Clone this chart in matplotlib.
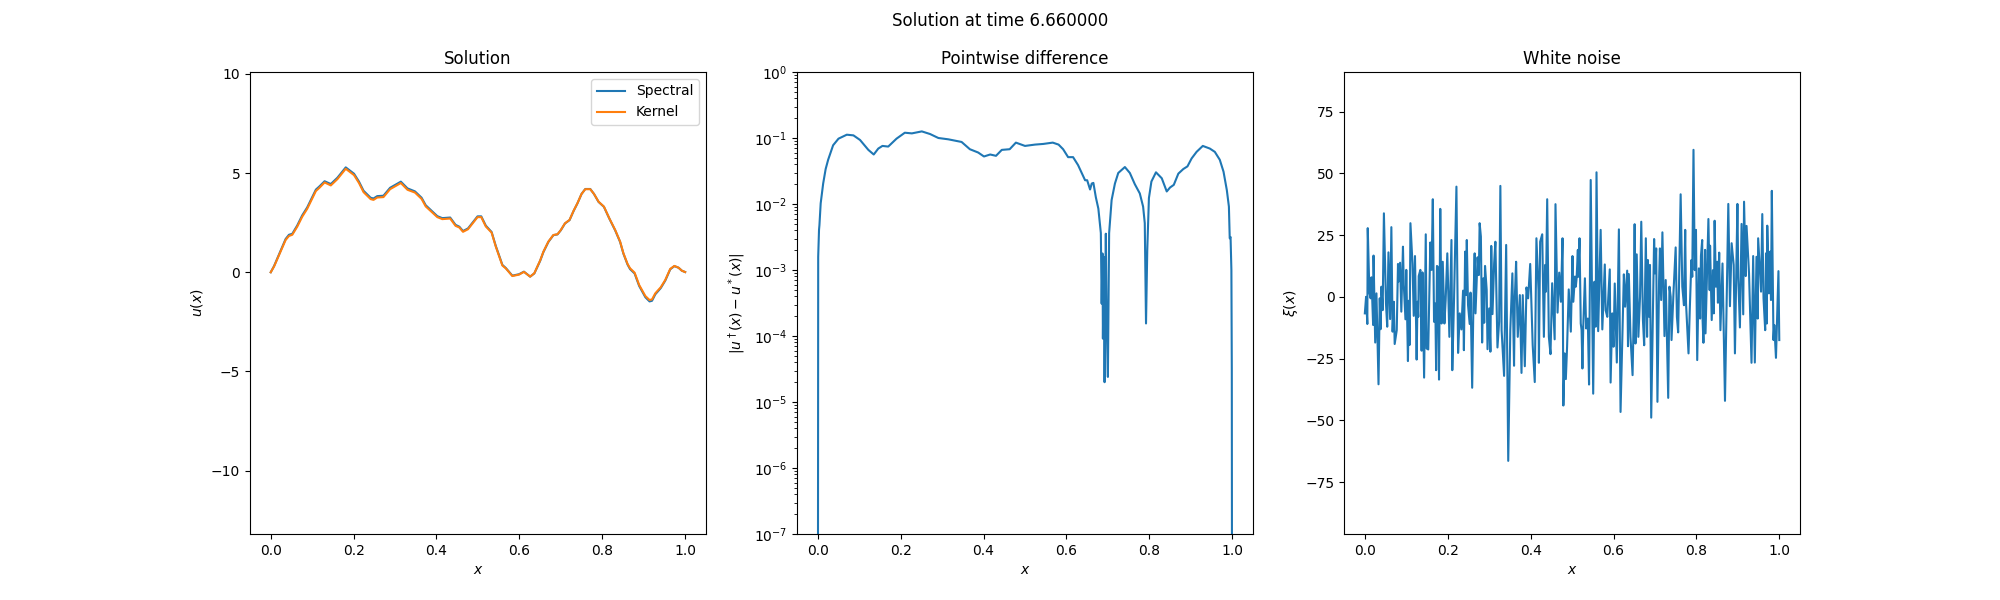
import numpy as np
import matplotlib
matplotlib.use("Agg")
import matplotlib.pyplot as plt

# values
sol_x = [0.000, 0.008, 0.036, 0.044, 0.052, 0.064, 0.076, 0.088, 0.109, 0.117, 0.130, 0.145, 0.161, 0.181,
         0.201, 0.213, 0.224, 0.241, 0.248, 0.257, 0.272, 0.288, 0.314, 0.330, 0.348, 0.364, 0.374, 0.402,
         0.414, 0.433, 0.446, 0.455, 0.464, 0.476, 0.499, 0.508, 0.519, 0.533, 0.543, 0.559, 0.567, 0.583,
         0.599, 0.611, 0.626, 0.636, 0.650, 0.658, 0.670, 0.682, 0.692, 0.700, 0.710, 0.721, 0.731, 0.740,
         0.750, 0.759, 0.771, 0.780, 0.791, 0.804, 0.817, 0.831, 0.843, 0.851, 0.861, 0.867, 0.878, 0.889,
         0.904, 0.914, 0.920, 0.928, 0.941, 0.952, 0.964, 0.974, 0.984, 0.992, 1.000]
kernel = [0.00, 0.29, 1.63, 1.83, 1.89, 2.30, 2.80, 3.20, 4.10, 4.25, 4.53, 4.38, 4.70, 5.22,
          4.90, 4.50, 4.04, 3.69, 3.65, 3.77, 3.79, 4.19, 4.50, 4.16, 4.02, 3.70, 3.32, 2.78,
          2.68, 2.71, 2.34, 2.26, 2.04, 2.17, 2.78, 2.78, 2.31, 2.00, 1.30, 0.34, 0.20, -0.19,
          -0.12, 0.02, -0.22, -0.05, 0.59, 1.04, 1.55, 1.88, 1.92, 2.13, 2.47, 2.64, 3.11, 3.48,
          3.95, 4.19, 4.19, 3.95, 3.56, 3.31, 2.72, 2.14, 1.55, 0.96, 0.42, 0.20, -0.02, -0.64,
          -1.20, -1.40, -1.37, -1.06, -0.76, -0.39, 0.17, 0.32, 0.23, 0.08, 0.01]
spectral = [0.00, 0.31, 1.68, 1.89, 1.94, 2.36, 2.87, 3.27, 4.17, 4.32, 4.59, 4.45, 4.77, 5.29,
            4.97, 4.57, 4.11, 3.76, 3.72, 3.84, 3.86, 4.26, 4.57, 4.23, 4.08, 3.76, 3.38, 2.83,
            2.73, 2.76, 2.39, 2.30, 2.08, 2.21, 2.82, 2.82, 2.35, 2.03, 1.33, 0.37, 0.22, -0.17,
            -0.10, 0.03, -0.22, -0.06, 0.57, 1.02, 1.53, 1.87, 1.91, 2.12, 2.46, 2.63, 3.10, 3.47,
            3.95, 4.20, 4.20, 3.95, 3.55, 3.30, 2.71, 2.12, 1.53, 0.94, 0.39, 0.16, -0.06, -0.69,
            -1.26, -1.47, -1.44, -1.11, -0.80, -0.42, 0.15, 0.31, 0.23, 0.08, 0.01]

diff_x = [0.000, 0.001, 0.003, 0.004, 0.007, 0.013, 0.019, 0.025, 0.037, 0.050, 0.070, 0.086, 0.102, 0.122,
          0.135, 0.146, 0.156, 0.170, 0.190, 0.210, 0.227, 0.251, 0.271, 0.291, 0.315, 0.347, 0.367, 0.387,
          0.401, 0.416, 0.430, 0.444, 0.463, 0.478, 0.500, 0.524, 0.544, 0.567, 0.581, 0.592, 0.604, 0.616,
          0.628, 0.645, 0.650, 0.657, 0.661, 0.665, 0.671, 0.677, 0.683, 0.685, 0.687, 0.688, 0.690, 0.692,
          0.695, 0.697, 0.700, 0.703, 0.709, 0.717, 0.725, 0.741, 0.753, 0.765, 0.777, 0.785, 0.789, 0.792,
          0.795, 0.799, 0.805, 0.816, 0.830, 0.842, 0.850, 0.859, 0.870, 0.882, 0.892, 0.902, 0.914, 0.929,
          0.946, 0.958, 0.970, 0.979, 0.987, 0.992, 0.994, 0.996, 0.998, 0.999, 1.000]
diff_log10 = [-12.0, -2.80, -2.39, -2.32, -1.99, -1.69, -1.47, -1.33, -1.11, -1.01, -0.95, -0.96, -1.03, -1.18,
              -1.25, -1.16, -1.12, -1.13, -1.01, -0.92, -0.93, -0.90, -0.94, -1.00, -1.02, -1.06, -1.17, -1.22,
              -1.28, -1.25, -1.27, -1.18, -1.17, -1.07, -1.12, -1.10, -1.09, -1.07, -1.10, -1.17, -1.29, -1.29,
              -1.41, -1.64, -1.64, -1.78, -1.69, -1.68, -1.90, -2.07, -2.44, -3.51, -2.75, -4.04, -2.80, -4.70,
              -2.45, -3.81, -4.62, -2.44, -1.94, -1.69, -1.53, -1.44, -1.53, -1.70, -1.84, -2.04, -2.29, -3.81,
              -2.70, -1.91, -1.66, -1.52, -1.61, -1.81, -1.75, -1.71, -1.54, -1.47, -1.43, -1.31, -1.21, -1.12,
              -1.16, -1.21, -1.33, -1.51, -1.79, -2.04, -2.52, -2.50, -3.00, -4.50, -12.0]

noise_x = [0.000, 0.003, 0.006, 0.007, 0.011, 0.014, 0.016, 0.020, 0.021, 0.025, 0.028, 0.033, 0.036, 0.038, 0.040,
           0.043, 0.046, 0.051, 0.054, 0.057, 0.061, 0.064, 0.067, 0.070, 0.072, 0.077, 0.080, 0.081, 0.085, 0.088,
           0.092, 0.094, 0.098, 0.100, 0.104, 0.106, 0.108, 0.110, 0.115, 0.118, 0.121, 0.125, 0.127, 0.129, 0.130,
           0.134, 0.137, 0.139, 0.143, 0.147, 0.149, 0.153, 0.158, 0.161, 0.164, 0.167, 0.170, 0.172, 0.174, 0.176,
           0.179, 0.182, 0.185, 0.188, 0.192, 0.195, 0.199, 0.204, 0.209, 0.211, 0.215, 0.221, 0.225, 0.229, 0.233,
           0.237, 0.239, 0.242, 0.244, 0.246, 0.249, 0.253, 0.255, 0.259, 0.262, 0.265, 0.267, 0.272, 0.275, 0.277,
           0.280, 0.283, 0.286, 0.288, 0.290, 0.294, 0.296, 0.300, 0.303, 0.305, 0.308, 0.312, 0.315, 0.318, 0.320,
           0.324, 0.327, 0.330, 0.336, 0.341, 0.346, 0.351, 0.356, 0.360, 0.362, 0.365, 0.369, 0.374, 0.378, 0.381,
           0.386, 0.390, 0.394, 0.399, 0.405, 0.410, 0.414, 0.419, 0.420, 0.423, 0.428, 0.432, 0.435, 0.437, 0.440,
           0.444, 0.448, 0.452, 0.458, 0.460, 0.465, 0.469, 0.473, 0.477, 0.479, 0.482, 0.485, 0.488, 0.492, 0.497,
           0.501, 0.503, 0.507, 0.509, 0.511, 0.514, 0.515, 0.518, 0.521, 0.523, 0.525, 0.527, 0.531, 0.534, 0.538,
           0.541, 0.545, 0.549, 0.551, 0.554, 0.557, 0.559, 0.563, 0.569, 0.573, 0.579, 0.581, 0.585, 0.591, 0.593,
           0.597, 0.600, 0.603, 0.608, 0.613, 0.617, 0.625, 0.628, 0.633, 0.635, 0.637, 0.641, 0.646, 0.649, 0.651,
           0.653, 0.656, 0.660, 0.664, 0.667, 0.671, 0.674, 0.678, 0.681, 0.683, 0.686, 0.688, 0.691, 0.698, 0.700,
           0.703, 0.706, 0.710, 0.712, 0.715, 0.718, 0.723, 0.726, 0.732, 0.735, 0.738, 0.740, 0.745, 0.750, 0.753,
           0.756, 0.762, 0.766, 0.770, 0.773, 0.775, 0.781, 0.784, 0.788, 0.790, 0.793, 0.796, 0.799, 0.802, 0.806,
           0.809, 0.811, 0.814, 0.815, 0.817, 0.821, 0.822, 0.829, 0.832, 0.833, 0.837, 0.840, 0.842, 0.844, 0.847,
           0.850, 0.852, 0.855, 0.858, 0.863, 0.869, 0.877, 0.881, 0.885, 0.890, 0.893, 0.899, 0.901, 0.905, 0.909,
           0.913, 0.915, 0.919, 0.921, 0.927, 0.933, 0.937, 0.941, 0.945, 0.948, 0.949, 0.956, 0.959, 0.962, 0.966,
           0.968, 0.970, 0.971, 0.975, 0.978, 0.980, 0.982, 0.986, 0.988, 0.992, 0.998, 1.000]
noise = [-6.7, 0.0, -11.0, 27.8, 1.7, -0.6, 7.9, -11.4, 16.7, -18.5, 1.4, -35.4, -0.6, -13.1, 4.1,
         -5.4, 33.8, -2.7, -12.1, 18.0, -9.0, 28.2, -14.1, -2.0, -19.1, -13.5, 13.3, 6.1, 13.8, -6.0,
         20.3, 4.8, -9.1, 10.9, -26.0, -1.6, -19.5, 29.8, 13.3, -7.7, 16.5, -25.4, -2.0, -8.1, 8.4,
         10.9, -21.8, 9.9, -32.7, 25.3, -20.9, -21.3, 22.0, 10.9, 39.5, -10.1, -2.7, -29.7, 12.5, 12.2,
         -33.5, 35.6, -10.8, 14.2, -10.8, -1.3, 17.6, -16.2, 23.0, -29.7, -2.7, 44.6, -22.7, -6.7, -13.2,
         2.5, -21.6, 18.3, 0.7, 23.0, -3.3, -11.0, 1.7, -36.8, -2.7, 17.6, -6.7, 16.0, 8.8, 29.8,
         24.4, -18.5, 7.5, -10.5, 12.5, 2.8, -21.2, -4.7, -22.2, 20.6, -7.0, 13.6, 22.3, -2.7, -20.5,
         -10.1, 44.9, -13.5, -32.0, 21.0, -66.4, -13.5, 9.5, -27.9, 0.0, 14.2, -16.2, 0.7, -30.8, 0.7,
         -28.1, 3.8, -0.6, 13.3, -19.5, -34.5, 23.7, 2.8, -26.7, 22.3, 25.3, -16.2, 12.9, 2.1, 39.5,
         -16.2, -23.2, 5.5, -17.2, 37.5, -6.4, 9.8, -2.0, 23.7, -44.0, -22.9, -33.3, -20.2, 3.0, -14.1,
         16.5, -2.0, 8.2, 4.1, 7.5, 19.0, 8.1, 23.7, -10.8, -13.5, -29.0, -12.1, 7.5, -12.8, -8.8,
         -35.5, 47.3, -12.1, -39.2, 6.1, -12.1, 50.4, -13.9, 27.1, -13.2, 13.1, -5.4, -8.1, 11.1, -34.7,
         -6.7, -20.2, 5.4, -26.6, 27.3, -46.6, 9.1, -4.0, 10.6, -20.0, 9.2, -16.2, -31.7, -5.4, 29.4,
         -18.9, 17.2, -16.2, 0.0, 30.4, -9.4, -19.6, 23.7, -16.2, 14.9, -8.1, 12.9, -48.9, 23.4, 9.5,
         19.6, -42.5, 6.8, 19.6, -1.3, 26.1, -15.9, 6.8, -40.9, 4.1, 0.0, -17.5, 2.7, 20.0, -8.1,
         -14.4, 41.5, 4.1, -3.4, 27.1, -2.7, -22.9, -5.4, 14.9, 8.1, 59.5, 10.8, 27.1, -25.6, 11.5,
         -8.8, 16.5, 23.0, -9.4, -18.6, 19.0, -14.8, 31.5, 2.7, 20.7, -9.4, 10.8, -6.7, 30.8, 4.1,
         14.2, -2.4, 17.9, -13.5, 13.5, -42.1, 37.6, -3.8, 21.7, 12.9, -22.9, 37.6, 8.1, -12.4, 29.5,
         -7.1, 38.5, 8.4, 28.7, 9.5, -26.7, 16.5, -26.6, 16.2, -8.8, 23.7, 2.1, 33.5, -0.6, -13.5,
         17.6, -10.8, 28.8, 1.4, 18.3, -1.3, 42.9, -17.5, -11.4, -24.7, 10.4, -17.5]

fig, axes = plt.subplots(1, 3, figsize=(20, 6))
fig.suptitle("Solution at time 6.660000")

axes[0].plot(sol_x, spectral, label="Spectral")
axes[0].plot(sol_x, kernel, label="Kernel")
axes[0].set_ylim(-13.2, 10.1)
axes[0].set_xlabel("$x$")
axes[0].set_ylabel("$u(x)$")
axes[0].set_title("Solution")
axes[0].legend()

axes[1].semilogy(diff_x, 10.0 ** np.array(diff_log10))
axes[1].set_ylim(1e-7, 1)
axes[1].set_xlabel("$x$")
axes[1].set_ylabel(r"$|u^\dagger(x) - u^*(x)|$")
axes[1].set_title("Pointwise difference")

axes[2].plot(noise_x, noise)
axes[2].set_ylim(-96, 91)
axes[2].set_xlabel("$x$")
axes[2].set_ylabel(r"$\xi(x)$")
axes[2].set_title("White noise")

plt.savefig("out.png", dpi=100)
